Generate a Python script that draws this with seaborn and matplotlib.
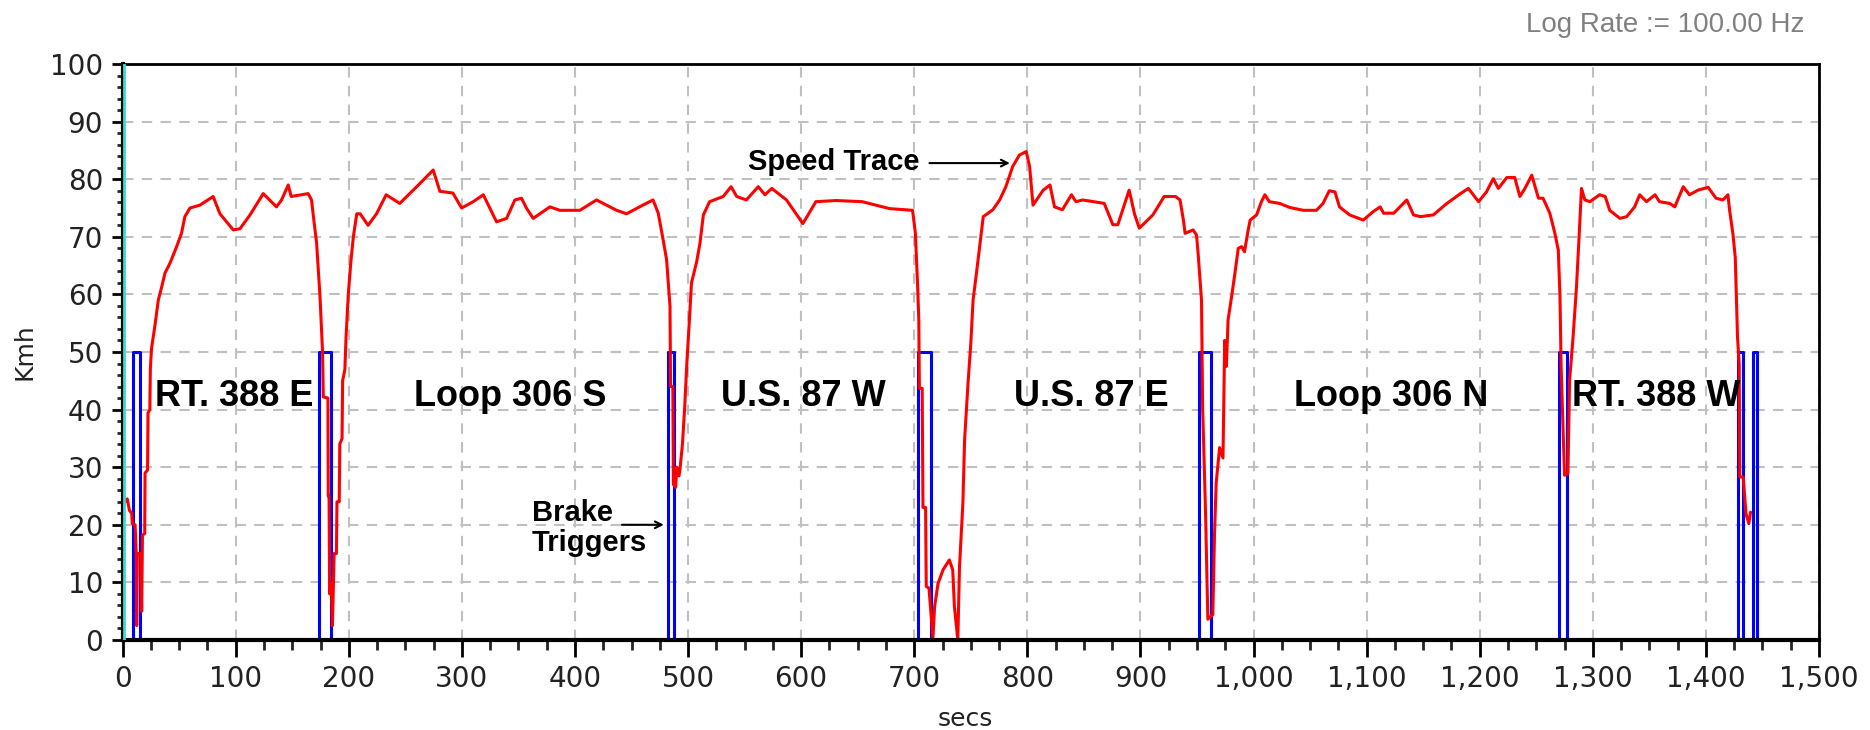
import matplotlib
matplotlib.use("Agg")
import matplotlib.pyplot as plt
from matplotlib.ticker import MultipleLocator, FuncFormatter
import seaborn as sns

# ===== データ =====
trace_t = [0.5, 2, 4, 6, 8, 8.5, 11, 12, 12.4, 13, 16, 16.8, 17.5, 19.5, 19.8, 22, 22.4, 24, 24.5, 25.5,
           28.6, 31.5, 34.5, 37.4, 41.8, 47.7, 52, 55, 59.5, 68.3, 80, 86, 97.8, 103.7, 112.6, 124.3,
           136, 140.5, 146.4, 149, 164, 167, 168.5, 171.5, 174.5, 176.8, 177.4, 181.5, 181.8, 182.5,
           183, 184.5, 185.5, 187, 189, 189.5, 191.5, 192, 194, 194.5, 196.5, 197.5, 199.5, 201.8,
           204, 207, 210, 217, 224.5, 233, 245, 260, 274.6, 280.5, 292, 299.7, 310, 318.9, 330.6,
           339.5, 346.8, 352.7, 357, 363, 377.8, 386.6, 404.3, 419, 436.8, 445.6, 460, 469, 473.6,
           478, 481, 484, 484.5, 486.5, 487, 489, 490, 492, 493, 495, 497, 499, 501, 503, 507.6,
           510.5, 513.5, 519, 531, 538, 543, 551.5, 562, 568, 574, 587, 601.5, 613, 631, 654, 678,
           698.5, 701, 703, 704, 704.5, 707, 707.7, 710, 710.6, 713, 716.5, 718, 721, 725.5, 731,
           734, 735.5, 738.5, 740, 743, 744.5, 747.5, 750, 752, 755, 758, 761, 769.5, 775.5, 781,
           787, 793, 799, 802, 805, 814, 820, 824, 831, 839, 843, 849, 868, 875.6, 880, 890, 895,
           899, 911, 921, 931, 935, 938, 939.5, 946.6, 949.6, 951, 954, 955, 957.6, 959.6, 964,
           965.5, 967, 970, 973, 974.5, 976, 977.5, 980.6, 983.5, 986.5, 989.5, 992, 995, 997,
           1002.7, 1007, 1010, 1014, 1023, 1032, 1044, 1055.6, 1061.5, 1067, 1072, 1076, 1085,
           1097, 1106, 1112, 1115, 1124, 1135.5, 1141.5, 1147.5, 1159, 1171, 1183, 1190, 1199,
           1206, 1212, 1216.5, 1224, 1231, 1235.5, 1240, 1246, 1252, 1256, 1262, 1266.5, 1269.5,
           1271, 1272, 1275, 1278, 1279.5, 1282.5, 1285.5, 1288, 1290, 1293, 1297.5, 1306, 1311,
           1315, 1324, 1330, 1337, 1341.5, 1347.5, 1355, 1359, 1368, 1372.5, 1380, 1385.5, 1393,
           1402, 1409, 1415, 1419.5, 1421, 1424, 1426, 1428, 1429.5, 1430, 1433, 1435.5, 1438,
           1439.5]
trace_kmh = [25, 24, 24.5, 22.5, 22, 20.2, 20, 15, 2.5, 15, 15, 5, 18.2, 18.5, 29, 29.5, 39.4, 40, 47.2, 50.6,
             54.7, 59, 61.3, 63.7, 65.4, 68.3, 70.6, 73.5, 75, 75.5, 77, 74, 71.2, 71.4, 73.8, 77.5,
             75.2, 76.4, 79, 77, 77.5, 76.4, 73.8, 68.9, 59.6, 49.8, 42.2, 42, 25, 25,
             8, 10, 2.5, 15, 15, 24, 24, 34, 35, 45, 47, 52.5, 60, 65.7,
             70, 74, 74, 72, 74, 77.3, 75.8, 78.7, 81.6, 77.9, 77.6, 75, 76.1, 77.3, 72.6,
             73.2, 76.4, 76.7, 75, 73.2, 75.2, 74.6, 74.6, 76.4, 74.6, 74, 75.5, 76.4, 74.1,
             69.4, 66, 57.9, 44, 44, 27, 26.5, 30, 28.5, 30, 34, 40.5, 48.5, 55, 62, 65.7,
             68.9, 73.8, 76.1, 77, 78.7, 77, 76.4, 78.7, 77.3, 78.4, 76.4, 72.3, 76.1, 76.3, 76.1, 74.9,
             74.6, 70.6, 61.3, 55.6, 43.7, 43.7, 23, 23, 9.3, 9, 0.3, 5.8, 9.8, 12.2, 13.9,
             12.2, 5.8, 0, 12.7, 23.8, 34.7, 44.5, 51.5, 59, 63.7, 68.6, 73.5, 74.7, 76.4, 78.7,
             82.2, 84.2, 84.8, 82.2, 75.5, 78.1, 79, 75.2, 74.7, 77.3, 76.1, 76.4, 75.8, 72.1, 72.1, 78.1, 73.8,
             71.5, 73.8, 77, 77, 76.4, 72.9, 70.6, 71.2, 70.3, 67.1, 59, 40.4, 21.9, 3.6, 4.4,
             18.3, 27.3, 33.4, 31.6, 52, 47.5, 55.6, 59.6, 63.6, 68, 68.3, 67.4, 70.9, 72.9,
             73.8, 76.1, 77.3, 76.1, 75.8, 75.1, 74.6, 74.6, 75.8, 78, 77.8, 75.2, 73.8,
             72.9, 74.4, 75.2, 74.1, 74.1, 76.4, 73.8, 73.5, 73.8, 75.8, 77.5, 78.4, 76.1,
             77.8, 80.1, 78.4, 80.3, 80.3, 77, 78.4, 80.7, 76.7, 76.7, 74.1, 70.6, 67.7,
             59.6, 47.5, 28.6, 28.9, 45.1, 52.4, 61, 70.4, 78.4, 76.4, 76.1, 77.3, 77,
             74.6, 73.2, 73.5, 75.2, 77.3, 76.1, 77.3, 76.1, 75.8, 75.2, 78.7, 77.3, 78.1,
             78.6, 76.7, 76.4, 77.3, 74.6, 70.4, 66.4, 52.5, 47.9, 28.3, 28.3, 21.9, 20.2,
             22.2]

# ブレーキトリガー（ON/OFF 時刻）
brake_on = [9.5, 174, 482, 703, 952, 1270, 1428, 1442]
brake_off = [15, 184, 487.5, 715, 962, 1277.5, 1432.5, 1445]
brake_level = 50

# 区間ラベル
route_names = ['RT. 388 E', 'Loop 306 S', 'U.S. 87 W', 'U.S. 87 E', 'Loop 306 N', 'RT. 388 W']
route_x = [99, 343, 602, 857, 1122, 1356]
route_y = 42.3

# ブレーキのステップ波形を作成
brake_t = [0]
brake_v = [0]
for t_on, t_off in zip(brake_on, brake_off):
    brake_t += [t_on, t_on, t_off, t_off]
    brake_v += [0, brake_level, brake_level, 0]
brake_t.append(1500)
brake_v.append(0)

# ===== 描画 =====
sns.set_theme(style="white")
plt.rcParams['font.family'] = ['Liberation Sans', 'DejaVu Sans']

fig = plt.figure(figsize=(18.7, 7.3), dpi=100)
ax = fig.add_axes([0.0656, 0.1233, 0.9071, 0.789])

sns.lineplot(x=brake_t, y=brake_v, sort=False, estimator=None, color='#0000ff', lw=2.2, ax=ax)
sns.lineplot(x=trace_t, y=trace_kmh, sort=False, estimator=None, color='#ff0000', lw=2.2, ax=ax)
ax.plot([1.2, 1.2], [0, 100], color='#33dddd', lw=2, zorder=3)

ax.set_xlim(0, 1500)
ax.set_ylim(0, 100)
ax.xaxis.set_major_locator(MultipleLocator(100))
ax.xaxis.set_minor_locator(MultipleLocator(25))
ax.yaxis.set_major_locator(MultipleLocator(10))
ax.yaxis.set_minor_locator(MultipleLocator(2))
ax.xaxis.set_major_formatter(FuncFormatter(lambda v, _: f'{int(v):,}'))

ax.grid(True, which='major', color='#c0c0c0', linestyle=(0, (5, 4)), linewidth=1.5)
ax.set_axisbelow(True)

for side in ['left', 'bottom']:
    ax.spines[side].set_linewidth(3)
for side in ['top', 'right']:
    ax.spines[side].set_linewidth(2)
for s in ax.spines.values():
    s.set_color('black')

ax.tick_params(axis='x', which='major', direction='out', length=12, width=2,
               pad=6, bottom=True, colors='black', labelcolor='#222222')
ax.tick_params(axis='x', which='minor', direction='out', length=7, width=2, bottom=True)
ax.tick_params(axis='y', which='major', direction='out', length=8, width=2,
               pad=6, left=True, colors='black', labelcolor='#222222')
ax.tick_params(axis='y', which='minor', direction='out', length=4, width=2, left=True)
for lbl in ax.get_xticklabels() + ax.get_yticklabels():
    lbl.set_fontfamily('DejaVu Sans')
    lbl.set_fontsize(20)

ax.set_xlabel('secs', fontsize=18, color='#222222', family='DejaVu Sans')
ax.set_ylabel('Kmh', fontsize=18, color='#222222', family='DejaVu Sans')
ax.xaxis.set_label_coords(0.497, -0.116)
ax.yaxis.set_label_coords(-0.051, 0.5)

# 区間名
for name, x in zip(route_names, route_x):
    ax.text(x, route_y, name, ha='center', va='center', fontsize=26, fontweight='bold', color='black')

# 注釈
ax.annotate('', xy=(787, 82.8), xytext=(711, 82.8),
            arrowprops=dict(arrowstyle='->', color='black', lw=1.5))
ax.text(705, 83, 'Speed Trace', ha='right', va='center', fontsize=21, fontweight='bold', color='black')
ax.annotate('', xy=(481, 20), xytext=(439, 20),
            arrowprops=dict(arrowstyle='->', color='black', lw=1.5))
ax.text(362, 19.5, 'Brake\nTriggers', ha='left', va='center', fontsize=21, fontweight='bold',
        color='black', linespacing=1.1)

fig.text(0.965, 0.966, 'Log Rate := 100.00 Hz', ha='right', va='center', fontsize=20, color='#808080')

fig.savefig('out.png', dpi=100, facecolor='white')
